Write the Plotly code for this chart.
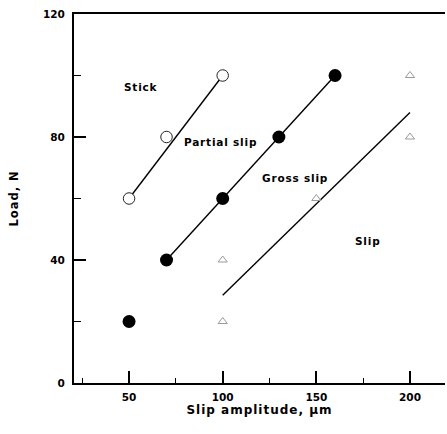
import plotly.graph_objects as go

# Data
stick_x = [50, 70, 100]
stick_y = [60, 80, 100]
gross_x = [50, 70, 100, 130, 160]
gross_y = [20, 40, 60, 80, 100]
slip_x = [100, 100, 150, 200, 200]
slip_y = [20, 40, 60, 80, 100]

# Boundary lines
stick_line_x = [50, 100]
stick_line_y = [60, 100]
gross_line_x = [70, 160]
gross_line_y = [40, 100]
slip_line_x = [100, 200]
slip_line_y = [28.5, 88]

# Region labels
region_labels = ["Stick", "Partial slip", "Gross slip", "Slip"]
region_x = [56.5, 99, 138.5, 177.5]
region_y = [96.3, 78.4, 66.7, 46.2]

x_title = "Slip amplitude, µm"
y_title = "Load, N"

FONT = "DejaVu Sans"


def spaced(t, ls=0.8):
    return f'<span style="letter-spacing:{ls}px">{t}</span>'


fig = go.Figure()
for lx, ly in [(stick_line_x, stick_line_y), (gross_line_x, gross_line_y), (slip_line_x, slip_line_y)]:
    fig.add_trace(go.Scatter(x=lx, y=ly, mode="lines",
                             line=dict(color="black", width=1.4), showlegend=False,
                             hoverinfo="skip"))

fig.add_trace(go.Scatter(x=stick_x, y=stick_y, mode="markers",
                         marker=dict(symbol="circle", size=11.5, color="white",
                                     line=dict(color="#222", width=1)),
                         showlegend=False))
fig.add_trace(go.Scatter(x=gross_x, y=gross_y, mode="markers",
                         marker=dict(symbol="circle", size=13, color="black",
                                     line=dict(color="black", width=0)),
                         showlegend=False))
fig.add_trace(go.Scatter(x=slip_x, y=slip_y, mode="markers",
                         marker=dict(symbol="triangle-up-open", size=8, color="#9a9a9a",
                                     line=dict(color="#9a9a9a", width=1)),
                         showlegend=False))

for t, x, y in zip(region_labels, region_x, region_y):
    fig.add_annotation(x=x, y=y, text=spaced(t, 0.8), showarrow=False,
                       font=dict(family=FONT, size=10.5, color="black", weight="bold"))

fig.update_layout(
    width=447, height=434,
    margin=dict(l=74, r=2, t=14, b=51),
    paper_bgcolor="white", plot_bgcolor="white",
    font=dict(family=FONT, color="black"),
)
fig.update_xaxes(
    range=[20.6, 218.7], tick0=0, dtick=50,
    ticks="inside", ticklen=12, tickwidth=1.5, tickcolor="black",
    minor=dict(dtick=25, ticks="inside", ticklen=5, tickwidth=1.2, tickcolor="black"),
    showline=True, linecolor="black", linewidth=2, mirror=True,
    showgrid=False, zeroline=False, ticklabelstandoff=3,
    tickfont=dict(family=FONT, size=10.5, color="black", weight="bold"),
    title=dict(text=spaced(x_title, 1.0), standoff=3,
               font=dict(family=FONT, size=12, color="black", weight="bold")),
)
fig.update_yaxes(
    range=[0, 120], tick0=0, dtick=40,
    ticks="inside", ticklen=12, tickwidth=1.5, tickcolor="black",
    minor=dict(dtick=20, ticks="inside", ticklen=7, tickwidth=1.2, tickcolor="black"),
    showline=True, linecolor="black", linewidth=2,
    showgrid=False, zeroline=False, ticklabelstandoff=5,
    tickfont=dict(family=FONT, size=10.5, color="black", weight="bold"),
    title=dict(text=spaced(y_title, 1.0), standoff=22,
               font=dict(family=FONT, size=11.5, color="black", weight="bold")),
)

fig.write_html("out.html")
